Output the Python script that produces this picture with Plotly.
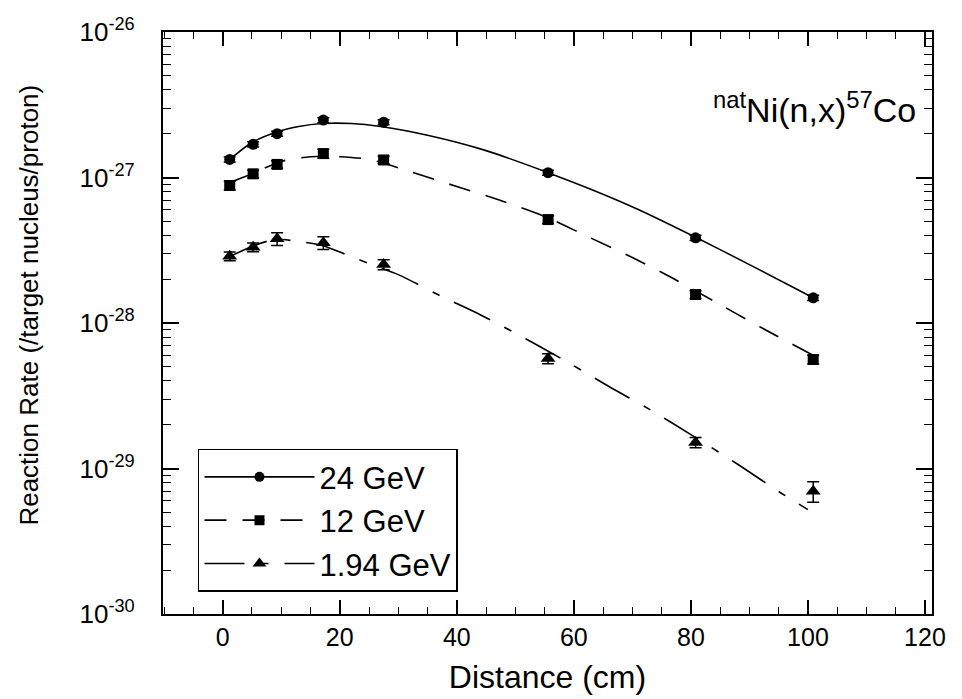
import plotly.graph_objects as go

# ---- measured points ----
distance = [1.2, 5.2, 9.3, 17.2, 27.5, 55.6, 80.8, 100.9]
rate_24 = [1.33e-27, 1.69e-27, 2.00e-27, 2.48e-27, 2.40e-27, 1.08e-27, 3.85e-28, 1.49e-28]
rate_12 = [8.81e-28, 1.06e-27, 1.23e-27, 1.46e-27, 1.32e-27, 5.14e-28, 1.57e-28, 5.61e-29]
rate_194 = [2.88e-28, 3.32e-28, 3.79e-28, 3.56e-28, 2.52e-28, 5.70e-29, 1.51e-29, 6.98e-30]
err_pct_24 = [4, 4, 4, 4, 4, 4, 4, 4]
err_pct_12 = [7, 6, 6, 7, 6, 6, 6, 7]
err_pct_194 = [7, 7, 10, 10, 8, 8, 8, 16]

# ---- fitted curves ----
fit_x_24 = [1.2, 5, 9, 13, 17, 22, 27, 35, 45, 55.6, 63, 71, 81, 90, 100.9]
fit_24 = [1.33e-27, 1.74e-27, 2.04e-27, 2.24e-27, 2.35e-27, 2.35e-27, 2.24e-27, 1.95e-27,
          1.53e-27, 1.08e-27, 8.27e-28, 6.03e-28, 3.85e-28, 2.52e-28, 1.49e-28]
fit_x_12 = [1.2, 5, 10, 15, 20, 25, 32, 40, 47, 55, 62, 70, 77, 84, 92, 100.9]
fit_12 = [9.24e-28, 1.06e-27, 1.29e-27, 1.39e-27, 1.39e-27, 1.33e-27, 1.10e-27, 8.67e-28,
          7.06e-28, 5.40e-28, 3.99e-28, 2.82e-28, 2.02e-28, 1.41e-28, 9.31e-29, 6.0e-29]
fit_x_194 = [1.2, 5, 9, 13, 17, 21, 25, 30, 37, 44, 52, 59, 66, 73, 80, 88, 95, 100]
fit_194 = [2.86e-28, 3.36e-28, 3.75e-28, 3.63e-28, 3.41e-28, 2.96e-28, 2.56e-28, 2.15e-28,
           1.55e-28, 1.14e-28, 7.71e-29, 5.36e-29, 3.66e-29, 2.54e-29, 1.71e-29, 1.07e-29,
           6.95e-30, 5.22e-30]

series_names = ["24 GeV", "12 GeV", "1.94 GeV"]
x_ticks = [0, 20, 40, 60, 80, 100, 120]
y_ticks = [1e-30, 1e-29, 1e-28, 1e-27, 1e-26]
y_ticklabels = ["10<sup>-30</sup>", "10<sup>-29</sup>", "10<sup>-28</sup>",
                "10<sup>-27</sup>", "10<sup>-26</sup>"]

FONT = "Liberation Sans, Arial, Helvetica, sans-serif"
BLACK = "black"

rates = [rate_24, rate_12, rate_194]
errs = [err_pct_24, err_pct_12, err_pct_194]
fits_x = [fit_x_24, fit_x_12, fit_x_194]
fits_y = [fit_24, fit_12, fit_194]
symbols = ["circle", "square", "triangle-up"]
msizes = [11, 11, 13]
dashes = ["solid", "22px,16px", "40px,16px,8px,16px"]

fig = go.Figure()
for name, r, e, fx, fy, sym, ms, dash in zip(series_names, rates, errs, fits_x, fits_y,
                                              symbols, msizes, dashes):
    fig.add_trace(go.Scatter(
        x=fx, y=fy, mode="lines", line=dict(color=BLACK, width=1.6, dash=dash, shape="spline",
                                            smoothing=0.8),
        showlegend=False, hoverinfo="skip"))
    fig.add_trace(go.Scatter(
        x=distance, y=r, mode="markers",
        marker=dict(symbol=sym, size=ms, color=BLACK),
        error_y=dict(type="data", array=[v * p / 100 for v, p in zip(r, e)],
                     color=BLACK, thickness=1.5, width=6),
        showlegend=False))
    fig.add_trace(go.Scatter(
        x=[None], y=[None], mode="lines+markers", name=name,
        line=dict(color=BLACK, width=1.6, dash=dash),
        marker=dict(symbol=sym, size=ms - 1, color=BLACK)))

fig.add_annotation(
    x=0.982, y=0.87, xref="paper", yref="paper", xanchor="right", yanchor="middle",
    text="<sup>nat</sup>Ni(n,x)<sup>57</sup>Co", showarrow=False,
    font=dict(family=FONT, size=34, color=BLACK))

# y-axis title (placed like the original, slightly above the axis centre)
fig.add_annotation(
    x=-0.1755, y=0.53, xref="paper", yref="paper", xanchor="center", yanchor="middle",
    text="Reaction Rate (/target nucleus/proton)", textangle=-90, showarrow=False,
    font=dict(family=FONT, size=26, color=BLACK))

fig.update_layout(
    width=962, height=699,
    margin=dict(l=155, r=38, t=24, b=93),
    paper_bgcolor="white", plot_bgcolor="white",
    font=dict(family=FONT, color=BLACK),
    legend=dict(x=0.0455, y=0.284, xanchor="left", yanchor="top",
                bordercolor=BLACK, borderwidth=1.5, bgcolor="white",
                font=dict(family=FONT, size=31, color=BLACK),
                itemwidth=110, tracegroupgap=0),
    xaxis=dict(range=[-10.2, 121.2], tickmode="array", tickvals=x_ticks, automargin=False,
               ticks="inside", ticklen=14, tickwidth=1.5, tickcolor=BLACK,
               minor=dict(tickmode="linear", tick0=0, dtick=5, ticks="inside", ticklen=7,
                          tickwidth=1.2, tickcolor=BLACK, showgrid=False),
               showline=True, linewidth=2.2, linecolor=BLACK, mirror="allticks",
               showgrid=False, zeroline=False,
               tickfont=dict(family=FONT, size=25, color=BLACK),
               title=dict(text="Distance (cm)", font=dict(family=FONT, size=32, color=BLACK),
                          standoff=16)),
    yaxis=dict(type="log", range=[-30, -26], tickmode="array", tickvals=y_ticks,
               ticktext=y_ticklabels, ticklabelstandoff=21, automargin=False,
               ticks="inside", ticklen=16, tickwidth=1.5, tickcolor=BLACK,
               minor=dict(dtick="D1", ticks="inside", ticklen=8, tickwidth=1.2,
                          tickcolor=BLACK, showgrid=False),
               showline=True, linewidth=2.2, linecolor=BLACK, mirror="allticks",
               showgrid=False, zeroline=False,
               tickfont=dict(family=FONT, size=26, color=BLACK)),
)

fig.write_html("out.html")
